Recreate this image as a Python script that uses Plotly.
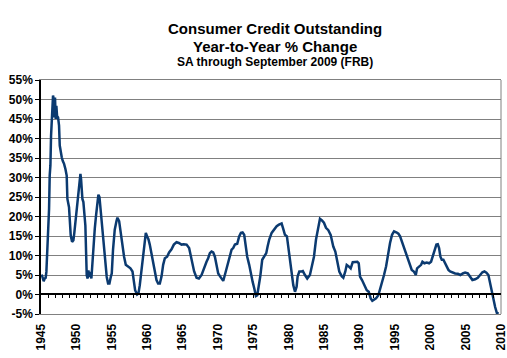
import plotly.graph_objects as go

# Year-to-year % change in consumer credit outstanding
years = [
    1945.1, 1945.24, 1945.38, 1945.52, 1945.66, 1945.76, 1945.85, 1945.95, 1946.04, 1946.14,
    1946.23, 1946.33, 1946.42, 1946.51, 1946.61, 1946.7, 1946.8, 1946.89, 1946.98, 1947.08,
    1947.17, 1947.27, 1947.41, 1947.55, 1947.65, 1947.79, 1947.93, 1948.07, 1948.26, 1948.45,
    1948.63, 1948.73, 1948.82, 1948.96, 1949.06, 1949.2, 1949.39, 1949.58, 1949.72, 1949.86,
    1950.0, 1950.14, 1950.28, 1950.42, 1950.57, 1950.66, 1950.76, 1950.85, 1950.99, 1951.13,
    1951.27, 1951.37, 1951.46, 1951.6, 1951.7, 1951.84, 1951.98, 1952.12, 1952.27, 1952.41,
    1952.6, 1952.78, 1952.97, 1953.11, 1953.26, 1953.4, 1953.54, 1953.73, 1953.92, 1954.1,
    1954.29, 1954.48, 1954.67, 1954.86, 1955.0, 1955.18, 1955.42, 1955.66, 1955.8, 1956.04,
    1956.27, 1956.5, 1956.74, 1956.98, 1957.3, 1957.64, 1957.93, 1958.1, 1958.3, 1958.58,
    1958.77, 1958.96, 1959.2, 1959.43, 1959.62, 1959.81, 1960.0, 1960.19, 1960.37, 1960.6,
    1960.84, 1961.08, 1961.32, 1961.55, 1961.79, 1962.03, 1962.26, 1962.5, 1962.82, 1963.1,
    1963.44, 1963.77, 1964.15, 1964.48, 1964.86, 1965.18, 1965.57, 1965.93, 1966.17, 1966.41,
    1966.64, 1966.98, 1967.31, 1967.69, 1968.0, 1968.39, 1968.62, 1968.86, 1969.1, 1969.33,
    1969.57, 1969.81, 1970.04, 1970.28, 1970.52, 1970.75, 1970.98, 1971.22, 1971.45, 1971.69,
    1971.93, 1972.16, 1972.4, 1972.73, 1973.0, 1973.25, 1973.48, 1973.71, 1973.9, 1974.14,
    1974.42, 1974.66, 1974.9, 1975.13, 1975.37, 1975.56, 1975.79, 1975.98, 1976.26, 1976.54,
    1976.83, 1977.02, 1977.25, 1977.59, 1977.91, 1978.3, 1978.62, 1979.0, 1979.19, 1979.47,
    1979.75, 1979.94, 1980.18, 1980.42, 1980.65, 1980.89, 1981.12, 1981.26, 1981.5, 1981.83,
    1982.0, 1982.3, 1982.62, 1983.0, 1983.29, 1983.57, 1983.86, 1984.14, 1984.42, 1984.7,
    1984.98, 1985.27, 1985.6, 1985.93, 1986.3, 1986.59, 1986.87, 1987.15, 1987.49, 1987.72,
    1988.0, 1988.2, 1988.48, 1988.76, 1989.05, 1989.37, 1989.7, 1989.9, 1990.08, 1990.36,
    1990.65, 1991.03, 1991.31, 1991.59, 1991.82, 1992.06, 1992.34, 1992.67, 1992.91, 1993.19,
    1993.47, 1993.76, 1994.04, 1994.32, 1994.6, 1994.89, 1995.27, 1995.5, 1995.74, 1995.98,
    1996.2, 1996.44, 1996.68, 1996.91, 1997.15, 1997.39, 1997.68, 1997.96, 1998.14, 1998.43,
    1998.71, 1998.9, 1999.17, 1999.51, 1999.84, 2000.12, 2000.36, 2000.59, 2000.87, 2001.07,
    2001.25, 2001.44, 2001.63, 2001.86, 2002.1, 2002.34, 2002.57, 2002.81, 2003.13, 2003.52,
    2003.9, 2004.26, 2004.6, 2004.93, 2005.31, 2005.64, 2005.96, 2006.34, 2006.72, 2007.05,
    2007.37, 2007.66, 2007.94, 2008.22, 2008.46, 2008.7, 2008.93, 2009.17, 2009.41, 2009.67,
]
pct_change = [
    5.1, 4.1, 3.4, 4.1, 4.3, 5.8, 9.6, 16.0, 18.6, 22.0,
    30.5, 33.1, 40.7, 45.0, 48.4, 51.0, 50.1, 45.4, 50.5, 45.0,
    48.4, 45.8, 45.4, 43.3, 38.2, 36.0, 35.2, 34.3, 33.5, 32.2,
    30.5, 24.5, 23.7, 22.4, 19.4, 15.2, 13.5, 13.9, 16.0, 18.6,
    19.4, 22.0, 25.0, 27.9, 30.9, 29.6, 26.7, 24.5, 23.7, 20.3,
    17.7, 10.9, 4.9, 4.1, 6.2, 4.5, 5.8, 4.1, 8.3, 13.9,
    16.9, 20.3, 23.3, 25.6, 25.0, 22.0, 19.9, 15.2, 10.9, 7.5,
    4.5, 2.8, 2.8, 4.5, 5.4, 11.5, 16.6, 18.8, 19.7, 18.8,
    15.8, 12.3, 9.7, 7.6, 7.2, 6.7, 5.9, 3.3, 1.1, 0.0,
    0.3, 2.4, 6.3, 9.7, 13.2, 15.8, 14.9, 14.1, 12.8, 10.6,
    8.9, 6.7, 3.7, 2.8, 2.8, 4.6, 7.6, 9.3, 9.7, 10.8,
    11.6, 12.8, 13.4, 13.2, 12.8, 12.9, 12.8, 11.9, 9.7, 7.6,
    5.9, 4.3, 4.1, 5.0, 6.7, 8.4, 9.3, 10.6, 11.0, 10.8,
    9.7, 7.6, 5.4, 4.7, 4.1, 3.5, 5.0, 6.7, 8.0, 9.7,
    11.5, 11.9, 12.8, 13.0, 14.9, 15.8, 15.9, 15.3, 12.3, 9.7,
    7.6, 5.0, 3.3, 1.6, -0.4, -0.2, 2.0, 4.6, 8.9, 9.7,
    10.6, 12.3, 14.1, 15.8, 16.6, 17.5, 17.9, 18.2, 17.1, 15.3,
    14.9, 12.3, 9.3, 6.3, 2.4, 0.7, 2.0, 4.6, 5.9, 5.9,
    6.0, 5.0, 4.1, 5.0, 7.2, 9.7, 14.1, 17.1, 19.4, 19.0,
    18.4, 17.1, 16.5, 15.3, 12.3, 11.0, 8.0, 5.9, 4.7, 4.3,
    5.9, 7.6, 7.2, 6.7, 8.3, 8.4, 8.4, 8.0, 4.6, 3.7,
    2.4, 1.1, 0.7, -1.0, -1.6, -1.3, -1.0, -0.2, 1.3, 2.8,
    5.0, 7.2, 10.6, 13.2, 15.3, 16.2, 15.9, 15.6, 14.9, 13.6,
    12.3, 11.5, 10.2, 8.4, 7.2, 6.3, 5.9, 5.0, 6.7, 7.2,
    7.6, 8.4, 8.0, 8.2, 8.0, 8.4, 9.7, 11.0, 12.8, 12.9,
    11.9, 9.7, 8.9, 8.9, 8.0, 7.2, 6.3, 5.9, 5.6, 5.4,
    5.3, 5.0, 5.4, 5.6, 5.4, 4.6, 3.7, 3.9, 4.3, 5.0,
    5.7, 5.9, 5.6, 5.0, 2.8, 0.7, -1.0, -3.2, -4.7, -4.9,
]
x_tick_years = list(range(1945, 2011, 5))
y_ticks = list(range(-5, 56, 5))

FONT = "Liberation Sans, Arial, sans-serif"
LINE_COLOR = "#0B3A70"
PLOT_TOP, PLOT_BOTTOM = 80, 314
PLOT_H = PLOT_BOTTOM - PLOT_TOP
Y_MIN, Y_MAX = -5, 55
ZERO_FRAC = (0 - Y_MIN) / (Y_MAX - Y_MIN)


def py(pixel_y):
    return (PLOT_BOTTOM - pixel_y) / PLOT_H


fig = go.Figure()
fig.add_trace(go.Scatter(
    x=years, y=pct_change, mode="lines",
    line=dict(color=LINE_COLOR, width=2.5),
    hoverinfo="skip", showlegend=False,
))
# invisible companion trace so the 0% tick axis subplot (x2/y2) is drawn
fig.add_trace(go.Scatter(
    x=years, y=pct_change, xaxis="x2", yaxis="y2", mode="lines",
    line=dict(color="rgba(0,0,0,0)", width=0), opacity=0,
    hoverinfo="skip", showlegend=False,
))

fig.update_layout(
    template="none",
    width=507, height=358,
    margin=dict(l=41, r=6, t=PLOT_TOP, b=358 - PLOT_BOTTOM, pad=0),
    paper_bgcolor="white", plot_bgcolor="rgba(0,0,0,0)",
    font=dict(family=FONT, color="black"),
    # bottom axis: year labels only
    xaxis=dict(
        range=[1945, 2010], autorange=False, automargin=False,
        anchor="y", side="bottom",
        tickmode="array", tickvals=x_tick_years,
        ticktext=[str(v) for v in x_tick_years],
        ticks="", tickangle=-90, ticklabelstandoff=4, ticklabeloverflow="allow",
        showgrid=False, zeroline=False,
        showline=True, linecolor="#808080", linewidth=1, mirror=True,
        tickfont=dict(family=FONT, size=12, weight="bold"),
    ),
    # axis drawn along 0% with yearly tick marks pointing down
    xaxis2=dict(
        range=[1945, 2010], autorange=False, automargin=False,
        anchor="y2", side="top", tickmode="linear", tick0=1945, dtick=1,
        ticks="inside", ticklen=4, tickcolor="black", tickwidth=1,
        showticklabels=False, showgrid=False, zeroline=False,
        showline=True, linecolor="black", linewidth=1.5,
    ),
    yaxis2=dict(
        domain=[0, ZERO_FRAC], range=[Y_MIN, 0], autorange=False, automargin=False,
        anchor="x2", showticklabels=False, ticks="", showgrid=False,
        zeroline=False, showline=False,
    ),
    yaxis=dict(
        range=[Y_MIN, Y_MAX], autorange=False, automargin=False,
        tickmode="array", tickvals=y_ticks,
        ticktext=[f"{v}%" for v in y_ticks],
        ticks="outside", ticklen=4, tickcolor="black",
        showgrid=True, gridcolor="#808080", gridwidth=1,
        zeroline=False,
        showline=True, linecolor="black", linewidth=1.5,
        tickfont=dict(family=FONT, size=12, weight="bold"),
    ),
    shapes=[dict(type="line", xref="paper", yref="paper", x0=1, x1=1, y0=0, y1=1,
                 line=dict(color="#808080", width=1), layer="below")],
    annotations=[
        dict(text="Consumer Credit Outstanding", xref="paper", yref="paper",
             x=0.509, y=py(28.5), xanchor="center", yanchor="middle", showarrow=False,
             font=dict(family=FONT, size=15, weight="bold")),
        dict(text="Year-to-Year % Change", xref="paper", yref="paper",
             x=0.509, y=py(46.5), xanchor="center", yanchor="middle", showarrow=False,
             font=dict(family=FONT, size=15, weight="bold")),
        dict(text="SA through September 2009 (FRB)", xref="paper", yref="paper",
             x=0.509, y=py(62), xanchor="center", yanchor="middle", showarrow=False,
             font=dict(family=FONT, size=12, weight="bold")),
    ],
)

fig.write_html("out.html", config={"displayModeBar": False},
               post_script="document.body.style.margin='0px';")
